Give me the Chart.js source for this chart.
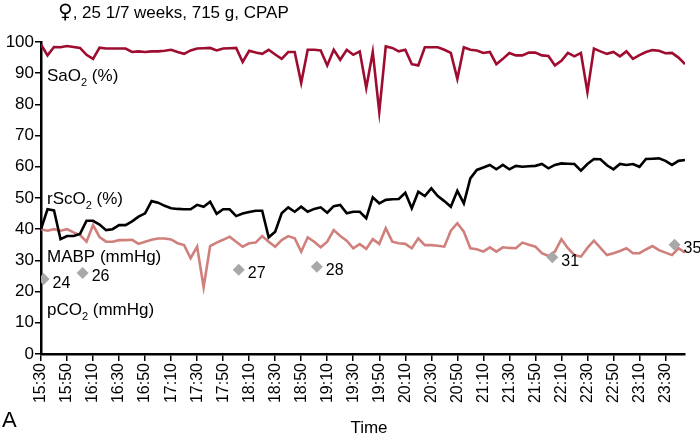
<!DOCTYPE html>
<html>
<head>
<meta charset="utf-8">
<script src="https://cdn.jsdelivr.net/npm/chart.js@4.4.1/dist/chart.umd.min.js"></script>
<style>
  body { margin: 0; background: #fff; }
  #wrap { width: 700px; height: 438px; }
</style>
</head>
<body>
<div id="wrap"><canvas id="chart"></canvas></div>
<script>
// samples every 5 min from 15:30
const startTime = '15:30';
const stepMinutes = 5;

const sao2 = [
  99.2, 95.7, 98.4, 98.3, 98.7, 98.4, 98.1, 95.9, 94.6, 98.2,
  97.9, 97.9, 97.9, 97.9, 96.8, 97.0, 96.8, 97.0, 97.0, 97.2,
  97.5, 96.8, 96.2, 97.3, 97.9, 98.0, 98.1, 97.3, 97.9, 98.0,
  98.1, 93.6, 97.2, 96.6, 96.2, 97.5, 96.0, 94.6, 96.8, 96.8,
  86.9, 97.5, 97.5, 97.3, 92.5, 97.5, 94.3, 97.5, 95.9, 97.0,
  85.3, 96.8, 77.6, 98.6, 98.1, 97.0, 97.5, 92.9, 92.5, 98.3,
  98.3, 98.3, 97.5, 96.5, 88.2, 98.3, 97.5, 97.3, 96.5, 96.8,
  92.9, 94.6, 96.5, 95.7, 95.7, 96.6, 96.6, 95.7, 95.5, 92.5,
  94.0, 96.5, 95.4, 96.5, 84.0, 97.9, 97.0, 96.2, 96.8, 95.4,
  97.0, 94.6, 95.8, 96.8, 97.4, 97.2, 96.4, 96.5, 95.0, 92.9
];

const rsco2 = [
  40.0, 46.4, 46.0, 36.8, 37.8, 37.8, 38.5, 42.7, 42.7, 41.5,
  39.7, 40.0, 41.3, 41.3, 42.5, 44.0, 45.1, 49.0, 48.5, 47.5,
  46.7, 46.5, 46.4, 46.4, 47.8, 47.2, 48.8, 44.9, 46.4, 46.4,
  44.2, 45.0, 45.5, 45.9, 45.9, 37.4, 39.2, 45.1, 47.0, 45.6,
  47.2, 45.6, 46.5, 47.0, 45.3, 47.4, 47.8, 45.1, 45.6, 45.6,
  43.5, 50.2, 48.3, 49.4, 49.6, 49.7, 51.7, 46.7, 52.0, 50.6,
  53.1, 50.6, 49.0, 47.2, 52.3, 48.3, 56.3, 59.0, 59.8, 60.6,
  59.2, 60.6, 59.2, 60.3, 60.0, 60.2, 60.3, 60.9, 59.5, 60.6,
  61.1, 61.0, 60.9, 58.8, 60.9, 62.5, 62.4, 60.5, 59.2, 60.9,
  60.6, 60.9, 60.0, 62.5, 62.6, 62.7, 61.9, 60.6, 61.9, 62.2
];

const mabp = [
  40.0, 39.5, 40.0, 39.5, 40.0, 39.0, 38.1, 36.0, 41.3, 37.5,
  36.0, 36.0, 36.5, 36.5, 36.6, 35.3, 36.0, 36.6, 37.0, 37.0,
  36.7, 35.5, 34.9, 30.7, 34.4, 21.4, 34.6, 35.7, 36.6, 37.6,
  36.0, 34.4, 35.5, 35.7, 37.8, 36.0, 34.4, 36.5, 37.8, 37.1,
  32.8, 37.4, 36.0, 34.2, 36.0, 39.7, 37.8, 36.3, 33.9, 35.2,
  33.7, 36.8, 35.3, 40.3, 36.0, 35.5, 35.3, 33.9, 37.1, 34.9,
  34.9, 34.7, 34.4, 39.5, 41.9, 39.2, 33.9, 33.6, 32.8, 34.2,
  32.8, 34.2, 34.0, 33.9, 35.7, 35.0, 34.4, 32.3, 31.4, 32.8,
  36.8, 33.9, 31.7, 31.2, 34.0, 36.3, 34.0, 31.7, 32.3, 33.0,
  33.9, 32.3, 32.3, 33.5, 34.6, 33.3, 32.5, 31.7, 33.9, 32.5
];

const pco2Times = ['15:32', '16:02', '18:02', '19:02', '22:03', '23:37'];
const pco2Values = [24, 26, 27, 28, 31, 35];

const xLastMinute = 495;   // 23:45
const xTickStep = 20;
const yTickStep = 10;

const FONT = "'Liberation Sans', Arial, Helvetica, sans-serif";

function toMinutes(t) {
    const [h, m] = t.split(':').map(Number);
    return h * 60 + m;
}
const t0 = toMinutes(startTime);

function fmtTime(min) {
    const total = t0 + min;
    const h = Math.floor(total / 60);
    const m = total % 60;
    return h + ':' + String(m).padStart(2, '0');
}

function series(values) {
    return values.map((v, i) => ({ x: i * stepMinutes, y: v }));
}

// text with "_2" style subscripts
function drawSubText(ctx, text, x, y, size) {
    const parts = text.split(/(_\d)/);
    let cx = x;
    parts.forEach(p => {
        if (!p) return;
        if (p[0] === '_') {
            ctx.font = Math.round(size * 0.65) + 'px ' + FONT;
            ctx.fillText(p.slice(1), cx, y + size * 0.28);
            cx += ctx.measureText(p.slice(1)).width;
        } else {
            ctx.font = size + 'px ' + FONT;
            ctx.fillText(p, cx, y);
            cx += ctx.measureText(p).width;
        }
    });
}

const seriesLabels = [
    { text: 'SaO_2 (%)', value: 87.5 },
    { text: 'rScO_2 (%)', value: 48.1 },
    { text: 'MABP (mmHg)', value: 29.6 },
    { text: 'pCO_2 (mmHg)', value: 12.5 }
];

const textPlugin = {
    id: 'textPlugin',
    afterDatasetsDraw(chart) {
        const { ctx, chartArea, scales } = chart;
        ctx.save();
        ctx.fillStyle = '#000';
        ctx.textBaseline = 'alphabetic';
        ctx.textAlign = 'left';
        seriesLabels.forEach(l => {
            drawSubText(ctx, l.text, chartArea.left + 6, scales.y.getPixelForValue(l.value), 17);
        });

        // pCO2 values beside the diamonds
        const meta = chart.getDatasetMeta(0);
        ctx.font = '16px ' + FONT;
        ctx.textBaseline = 'middle';
        meta.data.forEach((pt, i) => {
            ctx.fillText(String(pco2Values[i]), pt.x + 9, pt.y + 4);
        });

        // title: the female sign is drawn a bit larger
        ctx.textBaseline = 'alphabetic';
        ctx.font = '20px "DejaVu Sans", ' + FONT;
        const sign = '\u2640';
        const signW = ctx.measureText(sign).width;
        ctx.fillText(sign, 58, 18);
        ctx.font = '17px ' + FONT;
        ctx.fillText(', 25 1/7 weeks, 715 g, CPAP', 58 + signW, 18);

        ctx.textAlign = 'center';
        ctx.textBaseline = 'middle';
        ctx.fillText('Time', 369, 428);
        ctx.textAlign = 'left';
        ctx.font = '22px ' + FONT;
        ctx.fillText('A', 2, 421);
        ctx.restore();
    }
};

const ctx = document.getElementById('chart').getContext('2d');
new Chart(ctx, {
    type: 'line',
    data: {
        datasets: [
            {
                label: 'pCO2',
                data: pco2Times.map((t, i) => ({ x: toMinutes(t) - t0, y: pco2Values[i] })),
                showLine: false,
                pointStyle: 'rectRot',
                pointRadius: 6,
                pointBackgroundColor: '#a8a8a8',
                pointBorderWidth: 0
            },
            {
                label: 'rScO2',
                data: series(rsco2),
                borderColor: '#000000',
                borderWidth: 2.6,
                pointRadius: 0,
                tension: 0
            },
            {
                label: 'SaO2',
                data: series(sao2),
                borderColor: '#9e0c30',
                borderWidth: 2.6,
                pointRadius: 0,
                tension: 0
            },
            {
                label: 'MABP',
                data: series(mabp),
                borderColor: '#d0807c',
                borderWidth: 2.6,
                pointRadius: 0,
                tension: 0
            }
        ]
    },
    options: {
        responsive: true,
        maintainAspectRatio: false,
        animation: false,
        layout: { padding: { top: 42, right: 15, left: 0, bottom: 0 } },
        plugins: {
            legend: { display: false },
            tooltip: { enabled: false }
        },
        scales: {
            x: {
                type: 'linear',
                min: 0,
                max: xLastMinute,
                afterFit: s => { s.height = 84; },
                ticks: {
                    stepSize: xTickStep,
                    autoSkip: false,
                    includeBounds: false,
                    minRotation: 90,
                    maxRotation: 90,
                    padding: 2,
                    color: '#000',
                    font: { size: 16, family: FONT },
                    callback: v => fmtTime(v)
                },
                grid: {
                    drawOnChartArea: false,
                    drawTicks: true,
                    tickLength: 7,
                    color: '#000',
                    lineWidth: 1.5
                },
                border: { display: true, color: '#000', width: 2.5 }
            },
            y: {
                min: 0,
                max: 100,
                afterFit: s => { s.width = 41; },
                ticks: {
                    stepSize: yTickStep,
                    padding: 1,
                    color: '#000',
                    font: { size: 17, family: FONT }
                },
                grid: {
                    drawOnChartArea: false,
                    drawTicks: true,
                    tickLength: 6,
                    color: '#000',
                    lineWidth: 1.5
                },
                border: { display: true, color: '#000', width: 2.5 }
            }
        }
    },
    plugins: [textPlugin]
});
</script>
</body>
</html>
